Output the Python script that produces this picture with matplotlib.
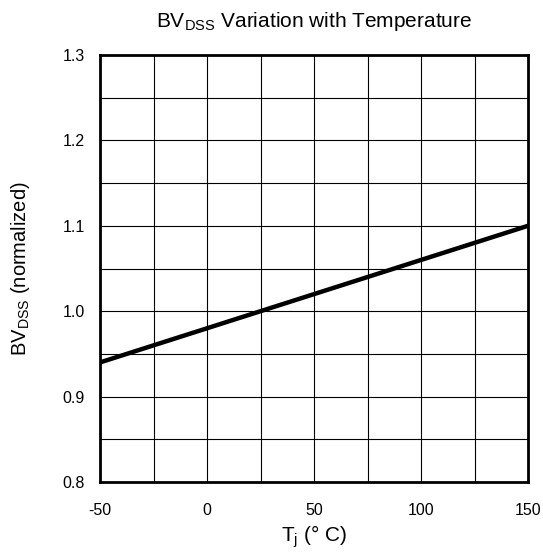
import matplotlib
matplotlib.use("Agg")
import matplotlib.pyplot as plt
import numpy as np

plt.rcParams['font.family'] = ['Liberation Sans', 'DejaVu Sans']
plt.rcParams['axes.unicode_minus'] = False

temp_c = [-50, 150]
bvdss_norm = [0.94, 1.10]

x_major = [-50, 0, 50, 100, 150]
x_minor = [-25, 25, 75, 125]
y_major = [0.8, 0.9, 1.0, 1.1, 1.2, 1.3]
y_minor = [0.85, 0.95, 1.05, 1.15, 1.25]

fig = plt.figure(figsize=(5.43, 5.55), dpi=100)
ax = fig.add_axes([100/543, 1-482/555, 428/543, 427/555])
ax.plot(temp_c, bvdss_norm, color='black', lw=3.2, solid_capstyle='butt', zorder=3)
ax.set_xlim(-50, 150)
ax.set_ylim(0.8, 1.3)
ax.set_xticks(x_major)
ax.set_xticks(x_minor, minor=True)
ax.set_xticklabels([str(v) for v in x_major])
ax.set_yticks(y_major)
ax.set_yticks(y_minor, minor=True)
ax.set_yticklabels([f"{v:.1f}" for v in y_major])
ax.grid(True, which='both', color='black', lw=0.8)
ax.tick_params(which='both', length=0, labelsize=11.5)
ax.tick_params(axis='x', pad=15)
ax.tick_params(axis='y', pad=11)
for s in ax.spines.values():
    s.set_linewidth(2)
ax.set_xlabel(r'T$_\mathregular{j}$ (° C)', fontsize=15, labelpad=4)
ax.set_ylabel(r'BV$_\mathregular{DSS}$ (normalized)', fontsize=14.5, labelpad=22)
ax.set_title(r'BV$_\mathregular{DSS}$ Variation with Temperature', fontsize=15, pad=20)
fig.savefig('out.png', dpi=100)
